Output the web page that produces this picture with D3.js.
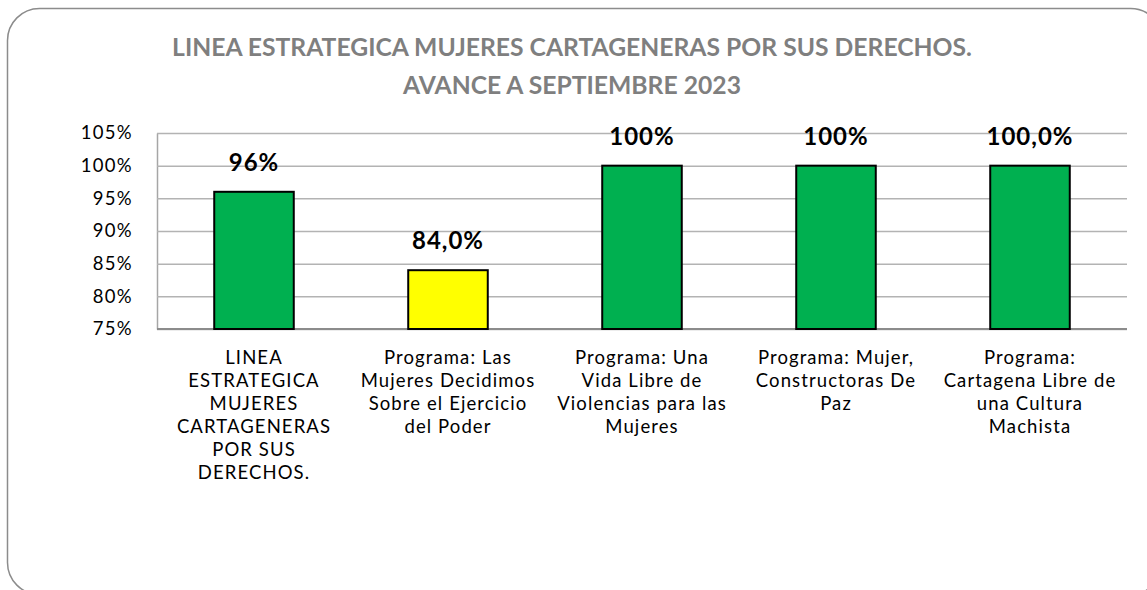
<!DOCTYPE html>
<html>
<head>
<meta charset="utf-8">
<script src="https://cdn.jsdelivr.net/npm/d3@7"></script>
<style>
    html, body { margin: 0; padding: 0; background: #fff; }
    svg { display: block; font-family: Lato, 'Noto Sans', sans-serif; }
</style>
</head>
<body>
<svg class="bar-chart"></svg>
<script>
// datos
const categorias = [
    ['LINEA', 'ESTRATEGICA', 'MUJERES', 'CARTAGENERAS', 'POR SUS', 'DERECHOS.'],
    ['Programa: Las', 'Mujeres Decidimos', 'Sobre el Ejercicio', 'del Poder'],
    ['Programa: Una', 'Vida Libre de', 'Violencias para las', 'Mujeres'],
    ['Programa: Mujer,', 'Constructoras De', 'Paz'],
    ['Programa:', 'Cartagena Libre de', 'una Cultura', 'Machista']
];
const avance = [0.96, 0.84, 1.0, 1.0, 1.0];
const etiquetas = ['96%', '84,0%', '100%', '100%', '100,0%'];
const colores = ['#00b050', '#ffff00', '#00b050', '#00b050', '#00b050'];
const ticksY = [0.75, 0.8, 0.85, 0.9, 0.95, 1.0, 1.05];
const titulo = [
    'LINEA ESTRATEGICA MUJERES CARTAGENERAS POR SUS DERECHOS.',
    'AVANCE A SEPTIEMBRE 2023'
];

const chart = () => {
    const w = 1147;
    const h = 590;
    const margin = { top: 133, right: 20, bottom: 261, left: 157 };
    const width = w - margin.left - margin.right;
    const height = h - margin.top - margin.bottom;

    const svg = d3.select('.bar-chart').attr('width', w).attr('height', h);

    // marco redondeado (se sale por la derecha y abajo)
    svg.append('rect')
        .attr('x', 7.5)
        .attr('y', 8.5)
        .attr('width', 1155)
        .attr('height', 586)
        .attr('rx', 32)
        .attr('fill', '#fff')
        .attr('stroke', '#8c8c8c')
        .attr('stroke-width', 1.5);

    svg.append('g')
        .attr('class', 'title')
        .selectAll('text')
        .data(titulo)
        .enter()
        .append('text')
        .attr('x', 572)
        .attr('y', (d, i) => 56 + i * 38)
        .attr('text-anchor', 'middle')
        .attr('fill', '#7f7f7f')
        .attr('font-weight', 'bold')
        .attr('font-size', '24.7px')
        .text((d) => d);

    const x = d3
        .scaleBand()
        .domain(d3.range(categorias.length))
        .range([0, width])
        .paddingInner(0.59)
        .paddingOuter(0.295);

    const y = d3
        .scaleLinear()
        .domain([0.75, 1.05])
        .range([height, 0]);

    const g = svg.append('g')
        .attr('transform', `translate(${margin.left},${margin.top})`);

    const axisY = d3
        .axisLeft(y)
        .tickValues(ticksY)
        .tickFormat(d3.format('.0%'))
        .tickSizeInner(-width)
        .tickSizeOuter(0)
        .tickPadding(24);

    const gy = g.append('g').attr('class', 'axis axis-y').call(axisY);
    gy.select('.domain').attr('stroke', '#a6a6a6').attr('stroke-width', 1.5);
    gy.selectAll('.tick line').attr('stroke', '#b3b3b3').attr('stroke-width', 1.5);
    gy.selectAll('.tick text')
        .attr('fill', '#000')
        .attr('font-size', '18.5px')
        .attr('letter-spacing', '1.3px')
        .attr('font-family', 'Lato, sans-serif');

    g.append('line')
        .attr('x1', 0)
        .attr('x2', width)
        .attr('y1', height)
        .attr('y2', height)
        .attr('stroke', '#8c8c8c')
        .attr('stroke-width', 2);

    g.selectAll('.bar')
        .data(avance)
        .enter()
        .append('rect')
        .attr('class', 'bar')
        .attr('x', (d, i) => x(i))
        .attr('y', (d) => y(d))
        .attr('width', x.bandwidth())
        .attr('height', (d) => height - y(d))
        .attr('fill', (d, i) => colores[i])
        .attr('stroke', '#000')
        .attr('stroke-width', 2);

    g.selectAll('.valor')
        .data(avance)
        .enter()
        .append('text')
        .attr('class', 'valor')
        .attr('x', (d, i) => x(i) + x.bandwidth() / 2)
        .attr('y', (d) => y(d) - 21)
        .attr('text-anchor', 'middle')
        .attr('font-weight', 'bold')
        .attr('font-size', '24px')
        .attr('letter-spacing', '1px')
        .text((d, i) => etiquetas[i]);

    const cats = g.selectAll('.cat')
        .data(categorias)
        .enter()
        .append('text')
        .attr('class', 'cat')
        .attr('text-anchor', 'middle')
        .attr('font-size', '18.5px')
        .attr('letter-spacing', '1.1px')
        .attr('transform', (d, i) => `translate(${x(i) + x.bandwidth() / 2},${height + 35})`);

    cats.selectAll('tspan')
        .data((d) => d)
        .enter()
        .append('tspan')
        .attr('x', 0)
        .attr('y', (d, i) => i * 23)
        .text((d) => d);
};

chart();
</script>
</body>
</html>
